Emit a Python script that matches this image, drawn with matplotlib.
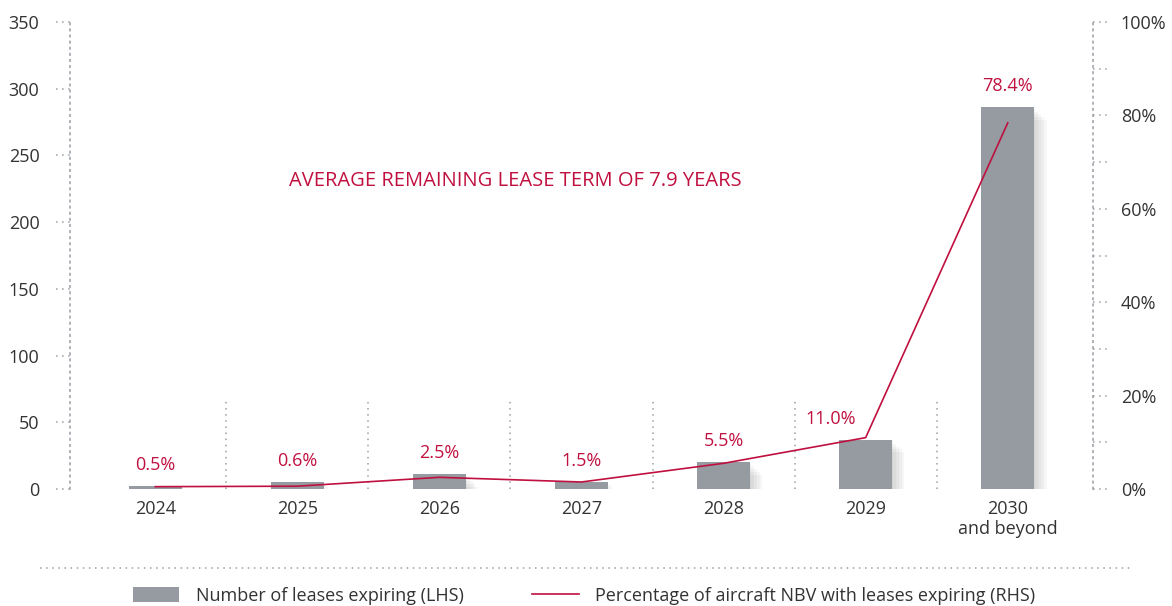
import matplotlib
matplotlib.use("Agg")
import matplotlib.pyplot as plt
import matplotlib.patheffects as pe
from matplotlib.lines import Line2D
from matplotlib.patches import Patch
import numpy as np

plt.rcParams['font.family'] = ['Open Sans', 'DejaVu Sans']

# data
years = ['2024', '2025', '2026', '2027', '2028', '2029', '2030\nand beyond']
leases = [2, 5, 11, 5, 20, 37, 286]
nbv_pct = [0.5, 0.6, 2.5, 1.5, 5.5, 11.0, 78.4]
pct_labels = ['0.5%', '0.6%', '2.5%', '1.5%', '5.5%', '11.0%', '78.4%']
left_ticks = [0, 50, 100, 150, 200, 250, 300, 350]
right_ticks = [0, 20, 40, 60, 80, 100]

GREY = '#959ba1'
RED = '#c0103f'
TXT = '#333333'
DOT = '#9a9fa6'
FS = 13

fig = plt.figure(figsize=(11.72, 6.06), dpi=100)
ax = fig.add_axes([70 / 1172, 1 - 489 / 606, 1023 / 1172, 467 / 606])
ax2 = ax.twinx()

x = np.arange(len(years))
# soft drop shadow under the bars
shadow = [pe.SimplePatchShadow(offset=(k, -k), shadow_rgbFace='black', alpha=0.035)
          for k in (1, 3, 5, 7, 9)] + [pe.Normal()]
ax.bar(x, leases, width=0.37, color=GREY, zorder=3, path_effects=shadow)

ax.set_xlim(-0.6, 6.6)
ax.set_ylim(0, 350)
ax2.set_ylim(0, 100)

# separators between years
ax.vlines(x[:-1] + 0.5, 0, 67, colors=DOT, linestyles=(0, (1, 3)), lw=1.1, zorder=1)

ax2.plot(x, nbv_pct, color=RED, lw=1.2, zorder=5)
for i, (v, lab) in enumerate(zip(leases, pct_labels)):
    dx = -35 if i == 5 else 0
    ax.annotate(lab, (x[i], v), xytext=(dx, 21), textcoords='offset pixels',
                ha='center', va='center', color=RED, fontsize=FS)

ax.text(0.435, 0.66, 'AVERAGE REMAINING LEASE TERM OF 7.9 YEARS', transform=ax.transAxes,
        ha='center', va='center', color=RED, fontsize=14.5)

for a in (ax, ax2):
    for s in ('top', 'bottom'):
        a.spines[s].set_visible(False)
    a.tick_params(length=0)
ax.spines['right'].set_visible(False)
ax2.spines['left'].set_visible(False)
ax.spines['left'].set_linestyle((0, (1, 3)))
ax.spines['left'].set_color(DOT)
ax2.spines['right'].set_linestyle((0, (1, 3)))
ax2.spines['right'].set_color(DOT)
ax.spines['left'].set_linewidth(1.1)
ax2.spines['right'].set_linewidth(1.1)

ax.set_xticks(x)
ax.set_xticklabels(years, fontsize=FS, color=TXT, linespacing=1.1)
ax.tick_params(axis='x', pad=8)
ax.set_yticks(left_ticks)
ax.set_yticklabels([str(t) for t in left_ticks], fontsize=FS, color=TXT)
ax.tick_params(axis='y', pad=22)
ax2.set_yticks(right_ticks)
ax2.set_yticklabels([f'{t}%' for t in right_ticks], fontsize=FS, color=TXT)
ax2.tick_params(axis='y', pad=20)

# dotted tick marks
for t in left_ticks:
    ax.plot([-0.6 - 0.1, -0.6], [t, t], color=DOT, ls=(0, (1, 3)), lw=1.1, clip_on=False)
for t in range(0, 101, 10):
    ax2.plot([6.6, 6.6 + 0.1], [t, t], color=DOT, ls=(0, (1, 3)), lw=1.1, clip_on=False)

# legend separator and legend
fig.add_artist(Line2D([40 / 1172, 1130 / 1172], [1 - 568 / 606] * 2, color=DOT,
                      ls=(0, (1, 3)), lw=1.1, transform=fig.transFigure))
handles = [Patch(facecolor=GREY, edgecolor='none'), Line2D([], [], color=RED, lw=1.2)]
fig.legend(handles, ['Number of leases expiring (LHS)',
                     'Percentage of aircraft NBV with leases expiring (RHS)'],
           loc='center', bbox_to_anchor=(584 / 1172, 1 - 596 / 606), ncol=2, frameon=False,
           fontsize=FS, labelcolor=TXT, handlelength=2.6, handleheight=0.9,
           columnspacing=3.8, handletextpad=0.9)

fig.savefig('out.png', dpi=100)
